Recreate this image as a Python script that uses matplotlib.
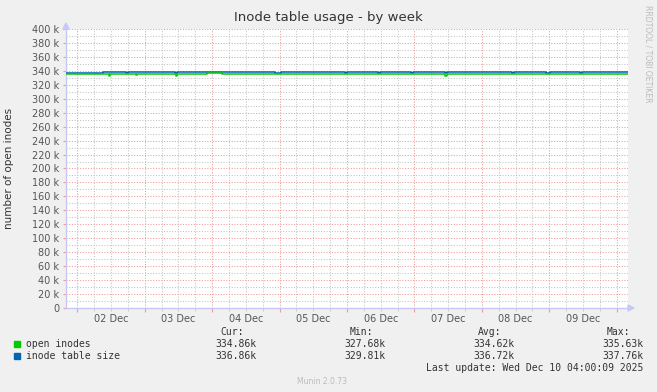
import matplotlib
matplotlib.use("Agg")
import matplotlib.pyplot as plt
import matplotlib.dates as mdates
import pandas as pd
from matplotlib.ticker import MultipleLocator, FuncFormatter

# ---- data (values in thousands) ----
blue_times = ["2025-12-01 20:00", "2025-12-01 22:00", "2025-12-01 23:10", "2025-12-01 23:55",
              "2025-12-02 00:40", "2025-12-02 04:10", "2025-12-02 05:35", "2025-12-02 06:20",
              "2025-12-02 07:25", "2025-12-02 07:45", "2025-12-02 09:10", "2025-12-02 17:20",
              "2025-12-02 18:05", "2025-12-03 10:50", "2025-12-03 11:30", "2025-12-04 22:25",
              "2025-12-05 00:30", "2025-12-05 23:20", "2025-12-06 00:00", "2025-12-06 11:00",
              "2025-12-06 11:40", "2025-12-06 22:50", "2025-12-06 23:30", "2025-12-07 10:50",
              "2025-12-07 11:35", "2025-12-08 10:40", "2025-12-08 11:25", "2025-12-08 22:50",
              "2025-12-09 00:15", "2025-12-09 10:55", "2025-12-09 11:35", "2025-12-10 04:00"]
blue_vals = [337.6, 336.9, 337.6, 336.9,
             337.6, 336.9, 337.6, 336.9,
             337.6, 336.9, 337.7, 337.1,
             337.7, 337.1, 337.7, 337.0,
             337.7, 337.1, 337.7, 337.2,
             337.7, 337.2, 337.7, 337.1,
             337.7, 337.2, 337.7, 337.0,
             337.7, 337.2, 337.7, 337.7]

green_times = ["2025-12-01 20:00", "2025-12-02 11:20", "2025-12-02 11:50", "2025-12-02 20:55",
               "2025-12-02 21:25", "2025-12-03 11:05", "2025-12-03 11:40", "2025-12-03 22:10",
               "2025-12-04 03:30", "2025-12-07 10:55", "2025-12-07 11:25", "2025-12-10 04:00"]
green_vals = [334.9, 333.0, 334.9, 333.8,
              334.9, 333.0, 334.9, 337.2,
              334.9, 333.3, 334.9, 334.9]

series_names = ["open inodes", "inode table size"]
series_colors = ["#00CC00", "#0066B3"]
cur_vals = ["334.86k", "336.86k"]
min_vals = ["327.68k", "329.81k"]
avg_vals = ["334.62k", "336.72k"]
max_vals = ["335.63k", "337.76k"]
day_labels = ["02 Dec", "03 Dec", "04 Dec", "05 Dec", "06 Dec", "07 Dec", "08 Dec", "09 Dec"]

t_start = pd.Timestamp("2025-12-01 20:00")
t_end = pd.Timestamp("2025-12-10 04:00")

W, H = 657, 392
fig = plt.figure(figsize=(W / 100, H / 100), dpi=100, facecolor="#F0F0F0")
ax = fig.add_axes([66 / W, (H - 308) / H, 562 / W, (308 - 29) / H])
ax.set_facecolor("white")

bt = pd.to_datetime(blue_times)
gt = pd.to_datetime(green_times)
ax.step(bt, [v * 1000 for v in blue_vals], where="post", color=series_colors[1], lw=1.1, zorder=5)
ax.step(gt, [v * 1000 for v in green_vals], where="post", color=series_colors[0], lw=1.1, zorder=6)

ax.set_xlim(t_start, t_end)
ax.set_ylim(0, 400000)

# grid
minor_c = "#C4C4C4"
major_c = "#F09A9A"
dash = (0, (1, 1.6))
ax.yaxis.set_major_locator(MultipleLocator(20000))
ax.yaxis.set_minor_locator(MultipleLocator(10000))
ax.xaxis.set_major_locator(mdates.DayLocator())
ax.xaxis.set_minor_locator(mdates.HourLocator(byhour=[0, 6, 12, 18]))
ax.grid(which="minor", color=minor_c, lw=0.75, linestyle=dash, zorder=1)
ax.grid(which="major", color=major_c, lw=0.75, linestyle=dash, zorder=2)

ax.yaxis.set_major_formatter(FuncFormatter(lambda v, p: "0" if v == 0 else f"{int(v/1000)} k"))
ax.tick_params(axis="y", which="major", labelsize=7, labelcolor="#555555", length=2, color=major_c, pad=3)
ax.tick_params(axis="y", which="minor", length=0)
ax.tick_params(axis="x", which="major", labelbottom=False, length=3, color=major_c)
ax.tick_params(axis="x", which="minor", length=2, color=minor_c)

# day labels at noon
for i, lab in enumerate(day_labels):
    ax.text(pd.Timestamp("2025-12-02 12:00") + pd.Timedelta(days=i), -9000, lab,
            ha="center", va="top", fontsize=7, color="#555555", clip_on=False)

for s in ["top", "right"]:
    ax.spines[s].set_visible(False)
for s in ["left", "bottom"]:
    ax.spines[s].set_color("#C8C8F8")
    ax.spines[s].set_linewidth(1)

# axis arrows
fig.patches.append(plt.Polygon([[628 / W, (H - 305) / H], [628 / W, (H - 311) / H], [634 / W, (H - 308) / H]],
                               closed=True, transform=fig.transFigure, color="#C8C8F8"))
fig.patches.append(plt.Polygon([[63 / W, (H - 29) / H], [69 / W, (H - 29) / H], [66 / W, (H - 23) / H]],
                               closed=True, transform=fig.transFigure, color="#C8C8F8"))

ax.set_ylabel("number of open inodes", fontsize=7.5, color="#333333")
ax.yaxis.set_label_coords(-52 / 562, 0.5)

fig.text(328 / W, 1 - 18 / H, "Inode table usage - by week", ha="center", va="center",
         fontsize=9.5, color="#333333")
fig.text(648 / W, 1 - 5 / H, "RRDTOOL / TOBI OETIKER", rotation=270, ha="center", va="top",
         fontsize=5.5, color="#BBBBBB")

mono = "DejaVu Sans Mono"
fs = 7
tc = "#333333"
def ft(x, y, s, ha="left", color=tc, size=fs, family=mono):
    fig.text(x / W, 1 - y / H, s, ha=ha, va="center", fontsize=size, color=color, family=family)

for x, s in [(244, "Cur:"), (373, "Min:"), (501, "Avg:"), (630, "Max:")]:
    ft(x, 332, s, ha="right")
for i, name in enumerate(series_names):
    y = 344 + 12 * i
    fig.patches.append(plt.Rectangle((14 / W, 1 - (y + 3) / H), 6 / W, 6 / H,
                                     transform=fig.transFigure, color=series_colors[i]))
    ft(26, y, name)
    ft(256, y, cur_vals[i], ha="right")
    ft(385, y, min_vals[i], ha="right")
    ft(514, y, avg_vals[i], ha="right")
    ft(643, y, max_vals[i], ha="right")
ft(643, 368, "Last update: Wed Dec 10 04:00:09 2025", ha="right")
ft(322, 381, "Munin 2.0.73", ha="center", color="#BBBBBB", size=5.5, family="DejaVu Sans")

fig.savefig("out.png", dpi=100, facecolor=fig.get_facecolor())
